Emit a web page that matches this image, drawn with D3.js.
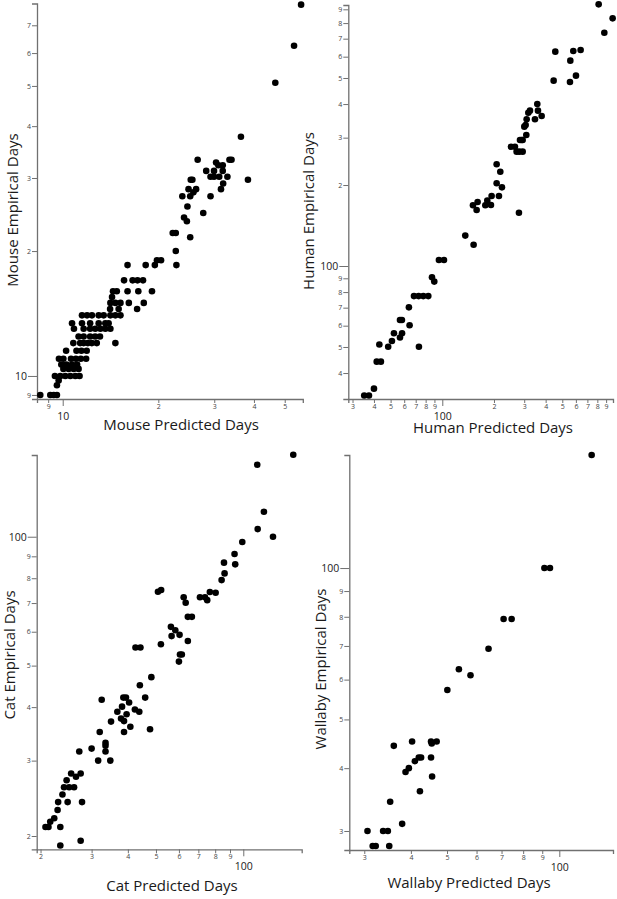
<!DOCTYPE html>
<html><head><meta charset="utf-8">
<script src="https://cdn.jsdelivr.net/npm/d3@7"></script>
<style>
body{margin:0;background:#fff}
svg{display:block}
text{font-family:"Open Sans",sans-serif}
</style>
</head><body>
<svg id="chart" width="617" height="899"></svg>
<script>
// ---------- data (log-log scatter, days) ----------
const mousePredicted = [8.50,9.14,9.37,9.59, 9.59, 9.71,
  9.45,9.83,10.19,10.57,10.96,11.30, 10.05,10.44,10.83,11.22, 9.9,10.27,10.7,11.1,
  9.73,10.05,10.62,11.0,11.4,11.85, 10.25,11.05,11.45,11.9,
  10.8,11.35,11.64,12.0,12.35,12.8,14.65, 11.22,11.64,12.2,12.65,13.1,
  10.85,11.64,12.2,12.66,13.14,13.62,14.13, 10.7,11.5,12.2,12.98,13.62,13.95,
  11.5,11.93,12.36,12.98,13.46,14.13,14.65,15.2, 14.1,15.0,17.15,
  14.13,14.65,15.2,16.15,18.0, 14.3, 14.4,14.8,16.0,17.3,19.1, 15.6,16.6,17.2,17.9,
  16.0,18.25,19.5,22.8, 19.8,20.4, 22.7, 22.2,22.7, 25.2, 24.6, 24.1, 27.7, 24.7,
  23.8,25.2,29.2, 25.8, 24.9,26.3,31.5, 25.3,25.6,38.3, 32.0,
  29.2,29.95,31.1,33.0, 28.3,29.95,31.9, 30.9,31.9, 30.4, 26.6,33.5,34.0,
  36.4, 46.7, 53.5, 56.3];
const mouseEmpirical = [9,9,9,9, 9.5, 9.75,
  10,10,10,10,10,10, 10.4,10.4,10.4,10.4, 10.65,10.65,10.65,10.65,
  11,11,11,11,11,11, 11.5,11.5,11.5,11.5,
  12,12,12,12,12,12,12, 12.45,12.45,12.45,12.45,12.45,
  13,13,13,13,13,13,13, 13.4,13.4,13.4,13.4,13.4,13.4,
  14,14,14,14,14,14,14,14, 14.5,14.5,14.5,
  15,15,15,15,15, 15.5, 16,16,16,16,16, 17,17,17,17,
  18.5,18.5,18.5,18.5, 19,19, 20, 22.1,22.1, 21.6, 23.6, 24.1, 24.7, 25.6,
  27.1,27.1,27.1, 27.7, 28.2,28.2,28.2, 29.7,29.7,29.7, 29.1,
  30.2,30.2,30.2,30.2, 31.2,31.2,31.2, 32.2,32.2, 32.7, 33.2,33.2,33.2,
  37.7, 50.9, 62.5, 78.5];

const humanPredicted = [35.1,37.4,40.0,41.5,43.9,43.0,48.4,50.9,52.3,56.7,58.2,56.7,58.3,63.9,64.5,
  68.4,72.8,77.5,82.9,73.1,87.1,89.8,95.6,102.3,136.1,152.2,150.9,158.5,160.6,178.1,182.9,192.1,
  193.8,207.3,207.3,213.8,217.7,222.6,279.6,251.2,265.0,271.0,280.9,293.8,283.5,289.9,293.8,
  300.4,305.8,308.6,310,317,324.1,346.6,357.6,360.8,379.1,445.2,455.3,556.8,554.3,579.6,600.6,
  639.4,814.3,878.6,982.2];
const humanEmpirical = [33.0,33.0,35.0,44.1,44.1,51.1,50.1,52.6,56.2,63.0,63.0,54.2,56.2,70.2,60.2,
  77.3,77.3,77.3,77.3,50.1,90.8,87.5,105.3,105.3,129.7,120.0,168.1,161.5,172.9,168.1,175,168.6,
  182.1,238.8,203,182.1,224.2,196.1,157.8,277.7,277.7,266.1,266.1,266.1,294.0,294.0,294.0,
  329.6,334.3,306.9,351,371.5,378,351,400.2,378,361.2,488.7,626.3,580,483.1,630,510,
  635.3,939,736.7,833.1];

const catPredicted = [148.7,111.7,117.8,112.1,126.6,99.2,93.3,93.8,85.8,86.2,84.2,76.7,80.3,70.9,73.8,
  75.1,62.3,63.3,64.4,66.5,50.8,52.1,56.3,58.3,56.6,60.3,64.4,52.0,60.5,61.4,60.0,42.5,44.2,48.2,
  44.0,45.9,47.7,38.6,39.4,38.2,40.4,42.3,43.8,36.8,37.9,38.8,39.6,40.8,38.8,35.0,32.5,32.0,33.5,
  33.5,33.5,30.0,31.6,34.8,27.2,27.5,25.5,26.5,24.6,24.1,25.1,26.1,23.8,23.0,24.8,27.8,22.9,22.3,
  21.6,21.3,20.8,23.4,27.5,23.4];
const catEmpirical = [155.4,147.3,114.4,104.2,100,97.2,91.1,86.2,87.0,82.1,79.2,74.3,74.0,72.2,72.2,
  71.1,72.2,70.1,65.0,65.0,74.4,75.1,61.6,60.5,58.6,59.0,57.1,56.1,53.1,53.1,51.1,55.1,55.1,47.0,
  45.0,42.1,35.5,42.1,42.1,40.1,41.0,39.5,39.0,39.0,37.6,37.1,38.5,36.0,35.0,37.0,41.6,35.0,33.0,
  32.5,31.5,32.0,30,30,31.5,28.0,28.0,27.5,27.0,26.0,26.0,26.0,25.0,24.0,24.0,24.0,23.0,22.0,
  21.6,21.0,21.0,21.0,19.5,19.0];

const wallabyPredicted = [122.1,91.2,94.4,70.9,74.5,64.6,53.8,57.8,50.1,36.0,40.3,45.3,46.9,45.5,45.3,
  41.0,42.0,42.6,39.5,38.7,45.6,42.3,35.2,37.9,30.6,33.7,34.7,31.6,32.2,35.0];
const wallabyEmpirical = [167.8,100,100,79.2,79.2,69.1,62.9,61.2,57.2,44.3,45.2,45.2,45.2,44.8,42.0,
  41.3,42.0,42.0,40.0,39.3,38.5,36.0,34.3,31.0,30,30,30,28.0,28.0,28.0];

const mouseXTicks = [9,10,20,30,40,50];
const mouseYTicks = [9,10,20,30,40,50,60,70];
const humanXTicks = [30,40,50,60,70,80,90,100,200,300,400,500,600,700,800,900];
const humanYTicks = [40,50,60,70,80,90,100,200,300,400,500,600,700,800,900];
const catXTicks = [20,30,40,50,60,70,80,90,100];
const catYTicks = [20,30,40,50,60,70,80,90,100];
const wallabyXTicks = [30,40,50,60,70,80,90,100];
const wallabyYTicks = [30,40,50,60,70,80,90,100];

const xTitles = ["Mouse Predicted Days","Human Predicted Days","Cat Predicted Days","Wallaby Predicted Days"];
const yTitles = ["Mouse Empirical Days","Human Empirical Days","Cat Empirical Days","Wallaby Empirical Days"];

// ---------- layout ----------
const panels = [
  {px:mousePredicted, py:mouseEmpirical, xt:mouseXTicks, yt:mouseYTicks,
   xd:[8.3,57], xr:[37,302.8], yd:[8.8,79], yr:[399,3.5],
   xTx:181, xTy:430, yTx:17.5, yTy:210},
  {px:humanPredicted, py:humanEmpirical, xt:humanXTicks, yt:humanYTicks,
   xd:[28.35,987], xr:[348.3,613], yd:[32.03,933.9], yr:[399,5],
   xTx:493, xTy:433, yTx:314, yTy:211},
  {px:catPredicted, py:catEmpirical, xt:catXTicks, yt:catYTicks,
   xd:[19.4,159], xr:[36.7,301.7], yd:[18.62,155.2], yr:[849.3,455],
   xTx:172, xTy:891, yTx:14.5, yTy:655},
  {px:wallabyPredicted, py:wallabyEmpirical, xt:wallabyXTicks, yt:wallabyYTicks,
   xd:[27.35,139.3], xr:[349.3,613], yd:[27.5,167.8], yr:[850,455],
   xTx:469, xTy:888, yTx:325.5, yTy:669}
];

const svg = d3.select("#chart");
const isDecade = v => Math.abs(Math.log10(v) - Math.round(Math.log10(v))) < 1e-9;
const fmt = v => isDecade(v) ? String(v) : String(Math.round(v / Math.pow(10, Math.floor(Math.log10(v)))));
const axisColor = "#707070";

panels.forEach((p, i) => {
  const x = d3.scaleLog().domain(p.xd).range(p.xr);
  const y = d3.scaleLog().domain(p.yd).range(p.yr);
  const g = svg.append("g");

  // x axis
  const gx = g.append("g").attr("transform", `translate(0,${p.yr[0]})`)
    .call(d3.axisBottom(x).tickValues(p.xt).tickFormat(fmt).tickSizeOuter(0).tickSize(4).tickPadding(2));
  gx.select(".domain").attr("stroke", axisColor).attr("stroke-width", 1.3);
  gx.selectAll(".tick line").attr("stroke", axisColor).attr("stroke-width", 1)
    .attr("y2", d => isDecade(d) ? 7 : 4);
  gx.selectAll(".tick text").attr("fill", d => isDecade(d) ? "#222" : "#444")
    .attr("font-family", '"Open Sans",sans-serif')
    .attr("font-size", d => isDecade(d) ? 10.5 : 7)
    .attr("dy", null)
    .attr("y", d => isDecade(d) ? 21 : 10);

  // y axis
  const gy = g.append("g").attr("transform", `translate(${p.xr[0]},0)`)
    .call(d3.axisLeft(y).tickValues(p.yt).tickFormat(fmt).tickSizeOuter(0).tickSize(5));
  gy.select(".domain").attr("stroke", axisColor).attr("stroke-width", 1.3);
  gy.selectAll(".tick line").attr("stroke", axisColor).attr("stroke-width", 1)
    .attr("x2", d => isDecade(d) ? -9 : -5);
  gy.selectAll(".tick text").attr("fill", d => isDecade(d) ? "#222" : "#444")
    .attr("font-family", '"Open Sans",sans-serif')
    .attr("font-size", d => isDecade(d) ? 10.5 : 7)
    .attr("x", d => isDecade(d) ? -10 : -6);

  // points
  g.append("g").selectAll("circle")
    .data(p.px.map((v, k) => [v, p.py[k]]))
    .join("circle")
    .attr("cx", d => x(d[0]))
    .attr("cy", d => y(d[1]))
    .attr("r", 3.3)
    .attr("fill", "#000");

  // titles
  g.append("text").attr("x", p.xTx).attr("y", p.xTy)
    .attr("text-anchor", "middle").attr("font-size", 15).attr("fill", "#1a1a1a")
    .text(xTitles[i]);
  g.append("text").attr("transform", `translate(${p.yTx},${p.yTy}) rotate(-90)`)
    .attr("text-anchor", "middle").attr("font-size", 15).attr("fill", "#1a1a1a")
    .text(yTitles[i]);
});
</script>
</body></html>
